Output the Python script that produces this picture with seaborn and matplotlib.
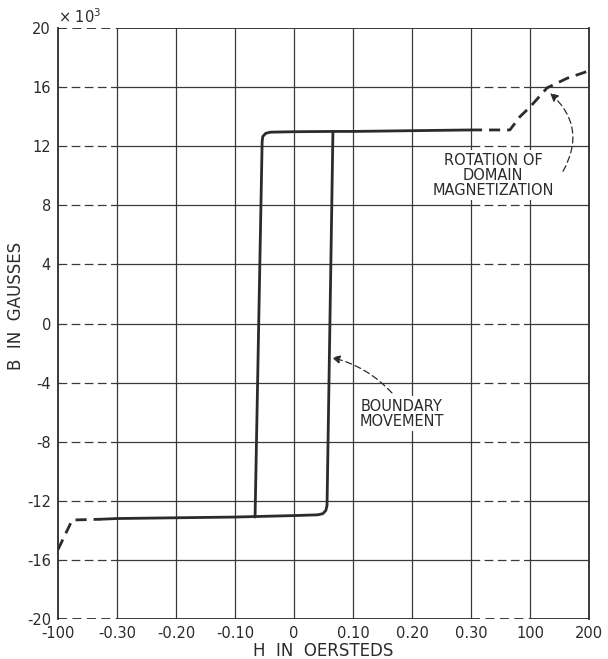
import numpy as np
import pandas as pd
import matplotlib
matplotlib.use("Agg")
import matplotlib.pyplot as plt
import seaborn as sns

# ---- data ----
x_tick_values = [-100, -0.30, -0.20, -0.10, 0.0, 0.10, 0.20, 0.30, 100, 200]
x_tick_labels = ["-100", "-0.30", "-0.20", "-0.10", "0", "0.10", "0.20", "0.30", "100", "200"]
y_tick_values = [20, 16, 12, 8, 4, 0, -4, -8, -12, -16, -20]
y_tick_labels = ["20", "16", "12", "8", "4", "0", "-4", "-8", "-12", "-16", "-20"]

# ascending branch (B in 10^3 gauss)
asc_left_dash_H = [-100, -76, -29]
asc_left_dash_B = [-15.3, -13.3, -13.25]
asc_solid_H = [-29, -0.30, -0.20, -0.10, 0.00, 0.040, 0.049, 0.054, 0.056, 0.066, 0.10, 0.20, 0.30]
asc_solid_B = [-13.25, -13.2, -13.15, -13.1, -13.0, -12.95, -12.87, -12.65, -12.3, 13.0, 13.0, 13.05, 13.1]
asc_right_dash_H = [0.30, 66, 83, 100, 129, 163, 200]
asc_right_dash_B = [13.1, 13.1, 14.0, 14.65, 15.95, 16.6, 17.1]

# descending branch
desc_H = [0.066, 0.0, -0.040, -0.048, -0.053, -0.054, -0.066]
desc_B = [13.0, 12.98, 12.95, 12.87, 12.65, 12.3, -13.1]

# ---- scale: piecewise (broken) H axis ----
tick_pos = np.arange(len(x_tick_values), dtype=float)

def fwd(h):
    return np.interp(h, x_tick_values, tick_pos)

def inv(p):
    return np.interp(p, tick_pos, x_tick_values)

sns.set_theme(style="white")
plt.rcParams['font.family'] = ['DejaVu Sans']

ink = "#2b2b2b"
fig = plt.figure(figsize=(6.08, 6.59), dpi=100)
ax = fig.add_axes([58/608, 1-619/659, (589-58)/608, (619-28)/659])
ax.set_xscale('function', functions=(fwd, inv))
ax.set_xlim(-100, 200)
ax.set_ylim(-20, 20)

# grid
glw = 0.9
gcol = "#3a3a3a"
inner_y = y_tick_values[1:-1]
ax.hlines(inner_y, -100, -0.30, colors=gcol, lw=glw, linestyles=(0, (7, 3.5)))
ax.hlines(inner_y, -0.30, 0.30, colors=gcol, lw=glw)
ax.hlines(inner_y, 0.30, 100, colors=gcol, lw=glw, linestyles=(0, (7, 3.5)))
ax.hlines(inner_y, 100, 200, colors=gcol, lw=glw)
ax.vlines(x_tick_values[1:-1], -20, 20, colors=gcol, lw=glw)

# frame
flw = 1.3
for s in ['top', 'bottom']:
    ax.spines[s].set_visible(False)
for s in ['left', 'right']:
    ax.spines[s].set_color(ink)
    ax.spines[s].set_linewidth(flw)
ax.hlines([20], -100, -0.30, colors=ink, lw=flw, linestyles=(0, (5, 3)))
ax.hlines([20], -0.30, 200, colors=ink, lw=flw)
ax.hlines([-20], -100, -0.30, colors=ink, lw=flw, linestyles=(0, (5, 3)))
ax.hlines([-20], -0.30, 0.30, colors=ink, lw=flw)
ax.hlines([-20], 0.30, 100, colors=ink, lw=flw, linestyles=(0, (5, 3)))
ax.hlines([-20], 100, 200, colors=ink, lw=flw)

# curves
clw = 2.0
def seg(H, B, dashed=False):
    df = pd.DataFrame({"H": H, "B": B})
    sns.lineplot(data=df, x="H", y="B", sort=False, estimator=None, ax=ax,
                 color=ink, lw=clw, linestyle=(0, (4, 2.5)) if dashed else '-')

seg(asc_left_dash_H, asc_left_dash_B, dashed=True)
seg(asc_solid_H, asc_solid_B)
seg(asc_right_dash_H, asc_right_dash_B, dashed=True)
seg(desc_H, desc_B)

# ticks
ax.set_xticks(x_tick_values)
ax.set_xticklabels(x_tick_labels, fontsize=10.5, color=ink)
ax.set_yticks(y_tick_values)
ax.set_yticklabels(y_tick_labels, fontsize=10.5, color=ink)
ax.tick_params(length=0, pad=5)
ax.set_xlabel("H  IN  OERSTEDS", fontsize=12, color=ink, labelpad=1)
ax.set_ylabel("B  IN  GAUSSES", fontsize=12, color=ink)
ax.yaxis.set_label_coords(-0.062, 0.53)
ax.text(0.0, 1.004, "× 10$^3$", transform=ax.transAxes, fontsize=10.5, color=ink,
        ha='left', va='bottom')

# annotations
arrow_kw = dict(arrowstyle='-|>', color=ink, lw=0.9, ls=(0, (5, 3)),
                shrinkA=0, shrinkB=0, mutation_scale=12)
ax.text(38, 10.05, "ROTATION OF\nDOMAIN\nMAGNETIZATION", fontsize=10.5, color=ink,
        ha='center', va='center', linespacing=1.0,
        bbox=dict(boxstyle='square,pad=0.15', fc='white', ec='none'))
ax.annotate("", xy=(134, 15.6), xytext=(156, 10.3),
            arrowprops=dict(connectionstyle='arc3,rad=0.4', **arrow_kw))
ax.text(0.183, -6.1, "BOUNDARY\nMOVEMENT", fontsize=10.5, color=ink,
        ha='center', va='center', linespacing=1.0,
        bbox=dict(boxstyle='square,pad=0.15', fc='white', ec='none'))
ax.annotate("", xy=(0.064, -2.3), xytext=(0.166, -4.7),
            arrowprops=dict(connectionstyle='arc3,rad=0.15', **arrow_kw))

fig.savefig("out.png", dpi=100, facecolor='white')
